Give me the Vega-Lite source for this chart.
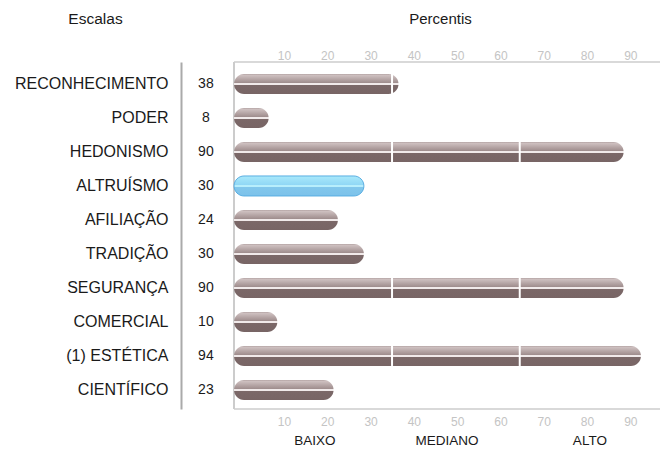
{
  "$schema": "https://vega.github.io/schema/vega-lite/v6.json",
  "autosize": {"type": "none"},
  "padding": {"left": 181, "top": 62, "right": 0, "bottom": 42},
  "width": 479,
  "height": 347,
  "config": {
    "font": "Liberation Sans",
    "view": {"stroke": null},
    "axis": {"grid": false}
  },
  "data": {
    "values": [
      {"escala": "RECONHECIMENTO", "percentil": 38},
      {"escala": "PODER", "percentil": 8},
      {"escala": "HEDONISMO", "percentil": 90},
      {"escala": "ALTRUÍSMO", "percentil": 30},
      {"escala": "AFILIAÇÃO", "percentil": 24},
      {"escala": "TRADIÇÃO", "percentil": 30},
      {"escala": "SEGURANÇA", "percentil": 90},
      {"escala": "COMERCIAL", "percentil": 10},
      {"escala": "(1) ESTÉTICA", "percentil": 94},
      {"escala": "CIENTÍFICO", "percentil": 23}
    ]
  },
  "layer": [
    {
      "data": {"values": [{}]},
      "mark": {"type": "rule", "color": "#cccccc", "strokeWidth": 1.5},
      "encoding": {
        "x": {
          "datum": 0,
          "type": "quantitative",
          "scale": {"domain": [-12.25, 98.4], "nice": false, "zero": false},
          "axis": {
            "orient": "top",
            "values": [10, 20, 30, 40, 50, 60, 70, 80, 90],
            "title": "Percentis",
            "titleX": 259,
            "titleY": -44,
            "titleAlign": "center",
            "titleBaseline": "middle",
            "titleFontSize": 15,
            "titleFontWeight": "normal",
            "titleColor": "#1a1a1a",
            "labelFontSize": 12,
            "labelColor": "#c4c4c4",
            "labelAlign": "left",
            "labelBaseline": "middle",
            "labelPadding": 7,
            "labelFlush": false,
            "domain": false,
            "ticks": false,
            "tickSize": 0
          }
        },
        "x2": {"datum": 98.4},
        "y": {"datum": 1, "type": "quantitative", "scale": {"domain": [0, 1]}, "axis": null}
      }
    },
    {
      "layer": [
        {
          "mark": {"type": "rule", "color": "#cccccc", "strokeWidth": 1.5},
          "encoding": {
            "x": {"datum": 0, "type": "quantitative", "axis": null}
          }
        },
        {
          "mark": {"type": "bar", "size": 20, "cornerRadiusEnd": 10, "strokeWidth": 1},
          "encoding": {
            "y": {
              "field": "escala",
              "type": "nominal",
              "sort": null,
              "scale": {"paddingInner": 0, "paddingOuter": 0.103, "align": 0.71},
              "axis": {
                "orient": "left",
                "title": "Escalas",
                "titleAngle": 0,
                "titleX": -86,
                "titleY": -44,
                "titleAlign": "center",
                "titleBaseline": "middle",
                "titleFontSize": 15.5,
                "titleFontWeight": "normal",
                "titleColor": "#1a1a1a",
                "labelFontSize": 16,
                "labelColor": "#1a1a1a",
                "labelAlign": "right",
                "labelBaseline": "middle",
                "labelPadding": 13,
                "ticks": false,
                "tickSize": 0,
                "domainColor": "#aaaaaa",
                "domainWidth": 2
              }
            },
            "x": {"field": "percentil", "type": "quantitative", "axis": null},
            "x2": {"datum": 0},
            "fill": {
              "condition": {
                "test": "datum.escala === 'ALTRUÍSMO'",
                "value": {
                  "gradient": "linear", "x1": 0, "y1": 0, "x2": 0, "y2": 1,
                  "stops": [
                    {"offset": 0, "color": "#a9e9fb"},
                    {"offset": 0.45, "color": "#90d7f5"},
                    {"offset": 0.46, "color": "#b8eefc"},
                    {"offset": 0.54, "color": "#b8eefc"},
                    {"offset": 0.55, "color": "#82c7ec"},
                    {"offset": 1, "color": "#7cc2ea"}
                  ]
                }
              },
              "value": {
                "gradient": "linear", "x1": 0, "y1": 0, "x2": 0, "y2": 1,
                "stops": [
                  {"offset": 0, "color": "#b3a3a3"},
                  {"offset": 0.07, "color": "#cdbfbf"},
                  {"offset": 0.45, "color": "#9e8c8c"},
                  {"offset": 0.46, "color": "#f1eaea"},
                  {"offset": 0.53, "color": "#f1eaea"},
                  {"offset": 0.54, "color": "#7b6868"},
                  {"offset": 1, "color": "#786565"}
                ]
              }
            },
            "stroke": {
              "condition": {"test": "datum.escala === 'ALTRUÍSMO'", "value": "#5aaee2"},
              "value": null
            }
          }
        },
        {
          "mark": {"type": "tick", "color": "#ffffff", "size": 20, "thickness": 2, "orient": "vertical"},
          "encoding": {
            "y": {"field": "escala", "type": "nominal", "sort": null},
            "x": {"datum": 36.5, "type": "quantitative", "axis": null},
            "opacity": {
              "condition": {"test": "datum.percentil > 36.5", "value": 1},
              "value": 0
            }
          }
        },
        {
          "mark": {"type": "tick", "color": "#ffffff", "size": 20, "thickness": 2, "orient": "vertical"},
          "encoding": {
            "y": {"field": "escala", "type": "nominal", "sort": null},
            "x": {"datum": 66, "type": "quantitative", "axis": null},
            "opacity": {
              "condition": {"test": "datum.percentil > 66", "value": 1},
              "value": 0
            }
          }
        },
        {
          "mark": {"type": "text", "fontSize": 14, "color": "#1a1a1a", "align": "center", "baseline": "middle"},
          "encoding": {
            "y": {"field": "escala", "type": "nominal", "sort": null},
            "x": {"datum": -6.5, "type": "quantitative", "axis": null},
            "text": {"field": "percentil", "type": "quantitative"}
          }
        }
      ]
    },
    {
      "data": {"values": [{}]},
      "mark": {"type": "rule", "color": "#cccccc", "strokeWidth": 1.5},
      "encoding": {
        "x": {
          "datum": 0,
          "type": "quantitative",
          "axis": {
            "orient": "bottom",
            "values": [10, 20, 30, 40, 50, 60, 70, 80, 90],
            "title": null,
            "labelFontSize": 12,
            "labelColor": "#c4c4c4",
            "labelAlign": "left",
            "labelBaseline": "middle",
            "labelPadding": 12,
            "labelFlush": false,
            "domain": false,
            "ticks": false,
            "tickSize": 0
          }
        },
        "x2": {"datum": 98.4},
        "y": {"datum": 0, "type": "quantitative", "scale": {"domain": [0, 1]}, "axis": null}
      }
    },
    {
      "data": {"values": [{}]},
      "mark": {"type": "text", "fontSize": 13.5, "color": "#1a1a1a", "align": "center", "baseline": "middle", "dy": 32},
      "encoding": {
        "x": {"datum": 18.7, "type": "quantitative", "axis": null},
        "y": {"datum": 0, "type": "quantitative", "scale": {"domain": [0, 1]}, "axis": null},
        "text": {"value": "BAIXO"}
      }
    },
    {
      "data": {"values": [{}]},
      "mark": {"type": "text", "fontSize": 13.5, "color": "#1a1a1a", "align": "center", "baseline": "middle", "dy": 32},
      "encoding": {
        "x": {"datum": 49.2, "type": "quantitative", "axis": null},
        "y": {"datum": 0, "type": "quantitative", "scale": {"domain": [0, 1]}, "axis": null},
        "text": {"value": "MEDIANO"}
      }
    },
    {
      "data": {"values": [{}]},
      "mark": {"type": "text", "fontSize": 13.5, "color": "#1a1a1a", "align": "center", "baseline": "middle", "dy": 32},
      "encoding": {
        "x": {"datum": 82.2, "type": "quantitative", "axis": null},
        "y": {"datum": 0, "type": "quantitative", "scale": {"domain": [0, 1]}, "axis": null},
        "text": {"value": "ALTO"}
      }
    }
  ],
  "resolve": {
    "scale": {"y": "independent"},
    "axis": {"x": "independent"}
  }
}
